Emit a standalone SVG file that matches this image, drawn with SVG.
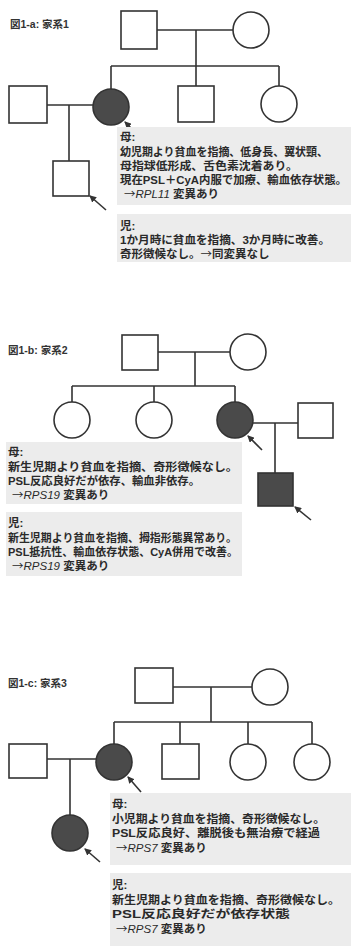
<svg xmlns="http://www.w3.org/2000/svg" width="351" height="946" viewBox="0 0 351 946">
<style>
.n{fill:#fff;stroke:#333;stroke-width:1.6}
.a{fill:#4a4a4a;stroke:#333;stroke-width:1.6}
.c{stroke:#333;stroke-width:1.6;fill:none}
.ar{stroke:#333;stroke-width:1.6;fill:none;marker-end:url(#ah)}
.bg{fill:#ececec}
.t{font-family:"Liberation Sans","Noto Sans CJK JP",sans-serif;font-size:11.5px;font-weight:700;fill:#2a2a2a}
.ttl{font-family:"Liberation Sans","Noto Sans CJK JP",sans-serif;font-size:10.5px;font-weight:700;fill:#333}
.i{font-style:italic;font-weight:400}
.j{font-family:"Noto Sans CJK JP",sans-serif;font-weight:400}
</style>
<defs>
<marker id="ah" markerWidth="7" markerHeight="7" refX="6" refY="3.5" orient="auto" markerUnits="userSpaceOnUse">
<path d="M0,0 L7,3.5 L0,7 Z" fill="#333"/>
</marker>
</defs>
<rect width="351" height="946" fill="#fff"/>

<!-- Family 1 -->
<text class="ttl" x="10" y="28">図1-a: 家系1</text>
<g id="f1-father"><rect class="n" x="121" y="11" width="36" height="38"/></g>
<g id="f1-mother"><circle class="n" cx="251" cy="30" r="18"/></g>
<g id="f1-spouse"><rect class="n" x="9" y="86" width="38" height="37"/></g>
<g id="f1-proband"><circle class="a" cx="111" cy="107" r="18"/></g>
<g id="f1-brother"><rect class="n" x="178" y="86" width="36" height="36"/></g>
<g id="f1-sister"><circle class="n" cx="279" cy="104" r="18"/></g>
<g id="f1-child"><rect class="n" x="53" y="161" width="36" height="35"/></g>

<!-- Family 2 -->
<text class="ttl" x="8" y="354">図1-b: 家系2</text>
<g id="f2-father"><rect class="n" x="122" y="335" width="36" height="35"/></g>
<g id="f2-mother"><circle class="n" cx="248" cy="352" r="18"/></g>
<g id="f2-sister1"><circle class="n" cx="72" cy="420" r="18"/></g>
<g id="f2-sister2"><circle class="n" cx="154" cy="420" r="18"/></g>
<g id="f2-proband"><circle class="a" cx="235" cy="420" r="18"/></g>
<g id="f2-spouse"><rect class="n" x="298" y="403" width="35" height="35"/></g>
<g id="f2-child"><rect class="a" x="258" y="473" width="35" height="33"/></g>

<!-- Family 3 -->
<text class="ttl" x="8" y="687">図1-c: 家系3</text>
<g id="f3-father"><rect class="n" x="135" y="668" width="38" height="35"/></g>
<g id="f3-mother"><circle class="n" cx="270" cy="687" r="18"/></g>
<g id="f3-spouse"><rect class="n" x="9" y="744" width="38" height="34"/></g>
<g id="f3-proband"><circle class="a" cx="114" cy="762" r="18"/></g>
<g id="f3-brother"><rect class="n" x="162" y="744" width="37" height="35"/></g>
<g id="f3-sister1"><circle class="n" cx="248" cy="762" r="18"/></g>
<g id="f3-sister2"><circle class="n" cx="312" cy="762" r="18"/></g>
<g id="f3-child"><circle class="a" cx="70" cy="833" r="18"/></g>

<g id="connectors">
<path class="c" d="M157,30 H233 M196,30 V66 M111,66 H279 M111,66 V89 M196,66 V86 M279,66 V86 M47,105 H93 M69,105 V161"/>
<path class="c" d="M158,352 H230 M195,352 V386 M72,386 H235 M72,386 V402 M154,386 V402 M235,386 V402 M253,423 H298 M275,423 V473"/>
<path class="c" d="M173,687 H252 M211,687 V722 M114,722 H312 M114,722 V744 M180,722 V744 M248,722 V744 M312,722 V744 M47,759 H96 M70,759 V815"/>
<path class="ar" d="M134,131 L125,122"/>
<path class="ar" d="M106,210 L90,196"/>
<path class="ar" d="M262,450 L248,436"/>
<path class="ar" d="M311,520 L295,507"/>
<path class="ar" d="M141,792 L128,777"/>
<path class="ar" d="M100,862 L85,849"/>
</g>

<g id="f1-notes">
<rect class="bg" x="117" y="127" width="234" height="78"/>
<rect class="bg" x="117" y="214" width="234" height="48"/>
<text class="t" x="120" y="141">母:</text>
<text class="t" x="120" y="156" textLength="208" lengthAdjust="spacingAndGlyphs">幼児期より貧血を指摘、低身長、翼状頸、</text>
<text class="t" x="120" y="170" textLength="178" lengthAdjust="spacingAndGlyphs">母指球低形成、舌色素沈着あり。</text>
<text class="t" x="120" y="184" textLength="227" lengthAdjust="spacingAndGlyphs">現在PSL＋CyA内服で加療、輸血依存状態。</text>
<text class="t" x="124" y="198"><tspan class="j">→</tspan><tspan class="i">RPL11</tspan> 変異あり</text>
<text class="t" x="120" y="230">児:</text>
<text class="t" x="120" y="244" textLength="210" lengthAdjust="spacingAndGlyphs">1か月時に貧血を指摘、3か月時に改善。</text>
<text class="t" x="120" y="258">奇形徴候なし。<tspan class="j">→</tspan>同変異なし</text>
</g>

<g id="f2-notes">
<rect class="bg" x="6" y="442" width="236" height="62"/>
<rect class="bg" x="6" y="512" width="236" height="64"/>
<text class="t" x="8" y="456">母:</text>
<text class="t" x="8" y="471" textLength="230" lengthAdjust="spacingAndGlyphs">新生児期より貧血を指摘、奇形徴候なし。</text>
<text class="t" x="8" y="485" textLength="192" lengthAdjust="spacingAndGlyphs">PSL反応良好だが依存、輸血非依存。</text>
<text class="t" x="12" y="499"><tspan class="j">→</tspan><tspan class="i">RPS19</tspan> 変異あり</text>
<text class="t" x="8" y="527">児:</text>
<text class="t" x="8" y="542" textLength="229" lengthAdjust="spacingAndGlyphs">新生児期より貧血を指摘、拇指形態異常あり。</text>
<text class="t" x="8" y="556" textLength="230" lengthAdjust="spacingAndGlyphs">PSL抵抗性、輸血依存状態、CyA併用で改善。</text>
<text class="t" x="12" y="570"><tspan class="j">→</tspan><tspan class="i">RPS19</tspan> 変異あり</text>
</g>

<g id="f3-notes">
<rect class="bg" x="110" y="793" width="241" height="72"/>
<rect class="bg" x="110" y="873" width="241" height="73"/>
<text class="t" x="112" y="808">母:</text>
<text class="t" x="112" y="823" textLength="213" lengthAdjust="spacingAndGlyphs">小児期より貧血を指摘、奇形徴候なし。</text>
<text class="t" x="112" y="837" textLength="208" lengthAdjust="spacingAndGlyphs">PSL反応良好、離脱後も無治療で経過</text>
<text class="t" x="116" y="852"><tspan class="j">→</tspan><tspan class="i">RPS7</tspan> 変異あり</text>
<text class="t" x="112" y="889">児:</text>
<text class="t" x="112" y="904" textLength="228" lengthAdjust="spacingAndGlyphs">新生児期より貧血を指摘、奇形徴候なし。</text>
<text class="t" x="112" y="918" textLength="178" lengthAdjust="spacingAndGlyphs">PSL反応良好だが依存状態</text>
<text class="t" x="116" y="933"><tspan class="j">→</tspan><tspan class="i">RPS7</tspan> 変異あり</text>
</g>
</svg>
